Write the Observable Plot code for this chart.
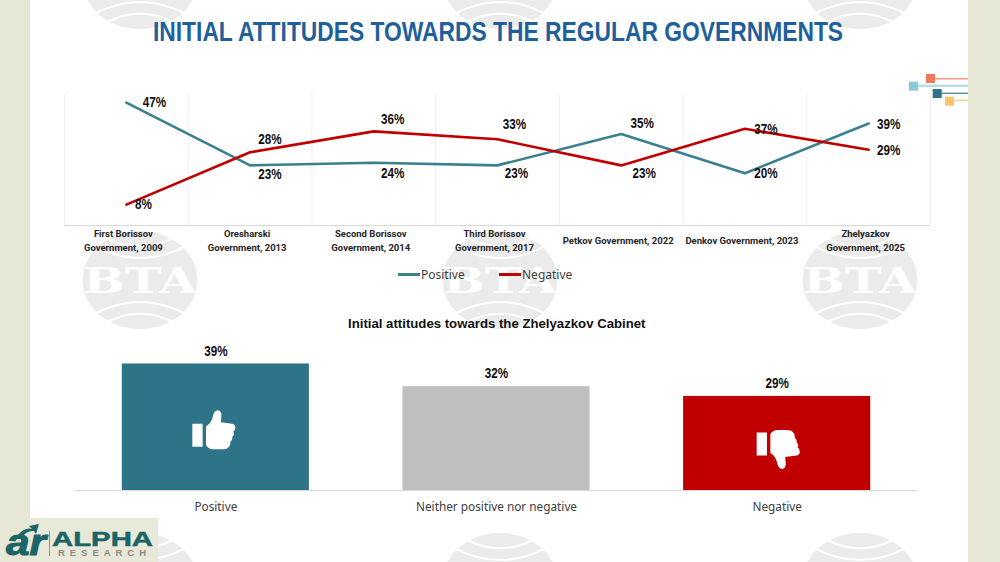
<!DOCTYPE html>
<html>
<head>
<meta charset="utf-8">
<script src="https://cdn.jsdelivr.net/npm/d3@7"></script>
<script src="https://cdn.jsdelivr.net/npm/@observablehq/plot@0.6"></script>
<style>
  html, body { margin: 0; padding: 0; }
  body { width: 1000px; height: 562px; position: relative; overflow: hidden; background: #e7e7d6; font-family: "Liberation Sans", sans-serif; }
  .abs { position: absolute; }
  #bg { left: 0; top: 0; }
  #title { left: 30px; width: 936px; top: 16px; text-align: center; font: bold 28px "Liberation Sans", sans-serif; color: #1f5f9c; white-space: nowrap; transform: scaleX(0.815); }
  #chart1 { left: 40px; top: 85px; }
  #chart2 { left: 40px; top: 340px; }
  #subtitle { left: 348px; top: 316px; font: bold 13.2px "Liberation Sans", sans-serif; color: #111; white-space: nowrap; }
  .legend-item { position: absolute; top: 266px; font: 12px "Noto Sans", sans-serif; color: #404040; display: flex; align-items: center; white-space: nowrap; }
  .legend-item i { display: block; width: 22px; height: 3px; margin-right: 1px; }
  svg { display: block; }
</style>
</head>
<body>
<svg id="bg" class="abs" width="1000" height="562"></svg>
<div id="title" class="abs">INITIAL ATTITUDES TOWARDS THE REGULAR GOVERNMENTS</div>
<div id="chart1" class="abs"></div>
<div class="legend-item" style="left:398px"><i style="background:#3b808f"></i>Positive</div>
<div class="legend-item" style="left:499px"><i style="background:#c00000"></i>Negative</div>
<div id="subtitle" class="abs">Initial attitudes towards the Zhelyazkov Cabinet</div>
<div id="chart2" class="abs"></div>

<script>
// Data
const governments = [
    "First Borissov\nGovernment, 2009",
    "Oresharski\nGovernment, 2013",
    "Second Borissov\nGovernment, 2014",
    "Third Borissov\nGovernment, 2017",
    "Petkov Government, 2022",
    "Denkov Government, 2023",
    "Zhelyazkov\nGovernment, 2025"
];
const positive = [47, 23, 24, 23, 35, 20, 39];
const negative = [8, 28, 36, 33, 23, 37, 29];

const cabinetAnswers = ["Positive", "Neither positive nor negative", "Negative"];
const cabinetValues = [39, 32, 29];
const cabinetColors = ["#2e7488", "#bfbfbf", "#c00000"];

// Label nudges [dx, dy] by hand, same order as the series
const positiveNudge = [[28, 0], [20, 9], [19, 10], [19, 8], [21, -11], [21, 0], [20, 1]];
const negativeNudge = [[17, 0], [20, -13], [19, -12], [17, -15], [23, 8], [21, 0], [20, 0]];

const teal = "#3b808f";
const red = "#c00000";

// Background: panel, watermarks, corner ornament, logo
const bg = d3.select("#bg");
bg.append("rect").attr("x", 30).attr("y", 0).attr("width", 938).attr("height", 562).attr("fill", "#fff");

function watermark(cx, cy, withLetters) {
    const g = bg.append("g").attr("transform", `translate(${cx},${cy})`);
    g.append("ellipse").attr("rx", 57.5).attr("ry", 49).attr("fill", "#ebebeb");
    const arcs = [[33, 42, 33.7], [45, 33.7, 22]];
    arcs.forEach(([w, y0, y1]) => {
        const c = 2 * y1 - y0;
        [-1, 1].forEach(s => {
            g.append("path")
                .attr("d", `M${-w},${s * y0}Q0,${s * c} ${w},${s * y0}`)
                .attr("fill", "none").attr("stroke", "#fff").attr("stroke-width", 2);
        });
    });
    if (withLetters) {
        g.append("text").text("BTA")
            .attr("text-anchor", "middle").attr("y", 13)
            .attr("font-family", "DejaVu Serif").attr("font-weight", "bold").attr("font-size", 36)
            .attr("textLength", 114).attr("lengthAdjust", "spacingAndGlyphs")
            .attr("fill", "#fff");
    }
}
[140, 500, 860].forEach(x => {
    watermark(x, -20, false);
    watermark(x, 280, true);
    watermark(x, 582, false);
});

const ornaments = [
    [926, 74, 78.7, "#f27a5c", "#f59a82", 1.5],
    [909, 81.7, 85.7, "#8cc8d6", "#b6dde3", 2.5],
    [932.7, 89, 93.3, "#2e7488", "#5a95a6", 1.5],
    [945, 96.7, 100.3, "#f9c76a", "#f9d48c", 1.5]
];
ornaments.forEach(([x, y, ly, c, lc, w]) => {
    bg.append("line").attr("x1", x + 4).attr("x2", 968).attr("y1", ly).attr("y2", ly).attr("stroke", lc).attr("stroke-width", w);
    bg.append("rect").attr("x", x).attr("y", y).attr("width", 9).attr("height", 9).attr("fill", c);
});

// Logo box
bg.append("rect").attr("x", 0).attr("y", 518).attr("width", 158).attr("height", 44).attr("fill", "#e7e7d6").attr("opacity", 0.92);
bg.append("text").text("ar").attr("x", 6).attr("y", 555)
    .attr("font-family", "Liberation Sans").attr("font-style", "italic").attr("font-weight", "bold").attr("font-size", 36)
    .attr("textLength", 40).attr("lengthAdjust", "spacingAndGlyphs")
    .attr("stroke", "#1b6467").attr("stroke-width", 1).attr("fill", "#1b6467");
bg.append("path").attr("d", "M18,535Q25,527 32,529L29,526L39,524L36,534L34,531Q27,530 22,537Z").attr("fill", "#1b6467");
bg.append("line").attr("x1", 49.5).attr("x2", 49.5).attr("y1", 531).attr("y2", 556).attr("stroke", "#5b8a8a").attr("stroke-width", 0.8);
bg.append("text").text("ALPHA").attr("x", 52).attr("y", 546)
    .attr("font-family", "Liberation Sans").attr("font-weight", "bold").attr("font-size", 21)
    .attr("textLength", 101).attr("lengthAdjust", "spacingAndGlyphs")
    .attr("stroke", "#1b6467").attr("stroke-width", 0.5).attr("fill", "#1b6467");
bg.append("text").text("RESEARCH").attr("x", 58).attr("y", 556)
    .attr("font-family", "Liberation Sans").attr("font-weight", "bold").attr("font-size", 9.5)
    .attr("textLength", 88).attr("lengthAdjust", "spacing").attr("fill", "#8a8a86");

// The labels in the source use a narrow face, none is installed so squeeze them
function squeeze(plot) {
    d3.select(plot).selectAll("g.pct text")
        .attr("transform", function () { return d3.select(this).attr("transform") + " scale(0.78,1)"; });
}

// Line chart
const rows = [
    ...positive.map((v, i) => ({ i, value: v, series: "Positive", nudge: positiveNudge[i] })),
    ...negative.map((v, i) => ({ i, value: v, series: "Negative", nudge: negativeNudge[i] }))
];
const edges = d3.range(governments.length + 1).map(i => i - 0.5);

let plot1 = Plot.plot({
    width: 900,
    height: 175,
    marginLeft: 24,
    marginRight: 10,
    marginTop: 8,
    marginBottom: 35,
    style: { background: "transparent", overflow: "visible" },
    x: { domain: [-0.5, governments.length - 0.5], axis: null },
    y: { domain: [0, 50.5], axis: null },
    color: { domain: ["Positive", "Negative"], range: [teal, red] },
    marks: [
        Plot.ruleX(edges, { stroke: "#eeeeee", strokeOpacity: 1 }),
        Plot.ruleY([0], { stroke: "#d9d9d9", strokeWidth: 1.2 }),
        Plot.line(rows, { x: "i", y: "value", z: "series", stroke: "series", strokeWidth: 2.6, curve: "linear" }),
        ...rows.map(d => Plot.text([d], {
            x: "i", y: "value", text: r => r.value + "%",
            dx: d.nudge[0], dy: d.nudge[1], className: "pct",
            fontFamily: "Liberation Sans", fontWeight: "bold", fontSize: 15, fill: "#111"
        })),
        Plot.text(governments, {
            x: (d, i) => i, y: 0,
            text: d => d,
            dx: -3, dy: 14, lineAnchor: "middle", lineHeight: 1.5,
            fontFamily: "Roboto", fontWeight: "bold", fontSize: 9.5, fill: "#262626"
        })
    ]
});
squeeze(plot1);
d3.select("#chart1").append(() => plot1);

// Bars, thumb icons drawn through custom dot symbols
function thumbPath(context, flip) {
    const s = flip ? -1 : 1;
    const m = (x, y) => context.moveTo(x, s * y);
    const l = (x, y) => context.lineTo(x, s * y);
    const q = (cx, cy, x, y) => context.quadraticCurveTo(cx, s * cy, x, s * y);
    // cuff
    m(-21.5, -6); l(-11.2, -6); l(-11.2, 17); l(-21.5, 17); context.closePath();
    // hand
    m(-7.8, -3.5);
    q(-3, -6, -1, -13);
    q(0, -19.5, 4, -19.5);
    q(8, -19.5, 7.5, -13);
    l(7, -7.5);
    l(18.5, -6);
    q(22, -5, 21.5, -2);
    q(21.5, 1, 19.5, 2);
    q(21, 5, 18.5, 7);
    q(19, 10, 16.5, 12);
    q(17, 16, 14, 18);
    q(13, 19.5, 8, 19.5);
    l(-1, 19.5);
    q(-5, 19.5, -7.8, 15.5);
    context.closePath();
}
const thumbUp = { draw: context => thumbPath(context, false) };
const thumbDown = { draw: context => thumbPath(context, true) };

const answers = cabinetAnswers.map((a, i) => ({ answer: a, value: cabinetValues[i], color: cabinetColors[i] }));

let plot2 = Plot.plot({
    width: 900,
    height: 180,
    marginLeft: 35,
    marginRight: 23,
    marginTop: 4,
    marginBottom: 30,
    style: { background: "transparent", overflow: "visible" },
    x: { domain: cabinetAnswers, paddingInner: 1 / 3, paddingOuter: 1 / 6, round: false, label: null },
    y: { domain: [0, 45], axis: null },
    marks: [
        Plot.barY(answers, { x: "answer", y: "value", fill: "color" }),
        Plot.ruleY([0], { stroke: "#d9d9d9", strokeWidth: 1.2 }),
        Plot.text(answers, {
            x: "answer", y: "value", text: d => d.value + "%", dy: -13, className: "pct",
            fontFamily: "Liberation Sans", fontWeight: "bold", fontSize: 15, fill: "#111"
        }),
        Plot.dot(answers.filter(d => d.answer == "Positive"), {
            x: "answer", y: d => d.value / 2, symbol: thumbUp, r: 1, fill: "#fff", stroke: "none", dx: -2, dy: 2.5
        }),
        Plot.dot(answers.filter(d => d.answer == "Negative"), {
            x: "answer", y: d => d.value / 2, symbol: thumbDown, r: 1, fill: "#fff", stroke: "none", dx: 1, dy: 6
        }),
        Plot.axisX({
            tickSize: 0, tickPadding: 12, label: null,
            fontFamily: "Noto Sans", fontSize: 11.8, fill: "#404040"
        })
    ]
});
squeeze(plot2);
d3.select("#chart2").append(() => plot2);
</script>
</body>
</html>
